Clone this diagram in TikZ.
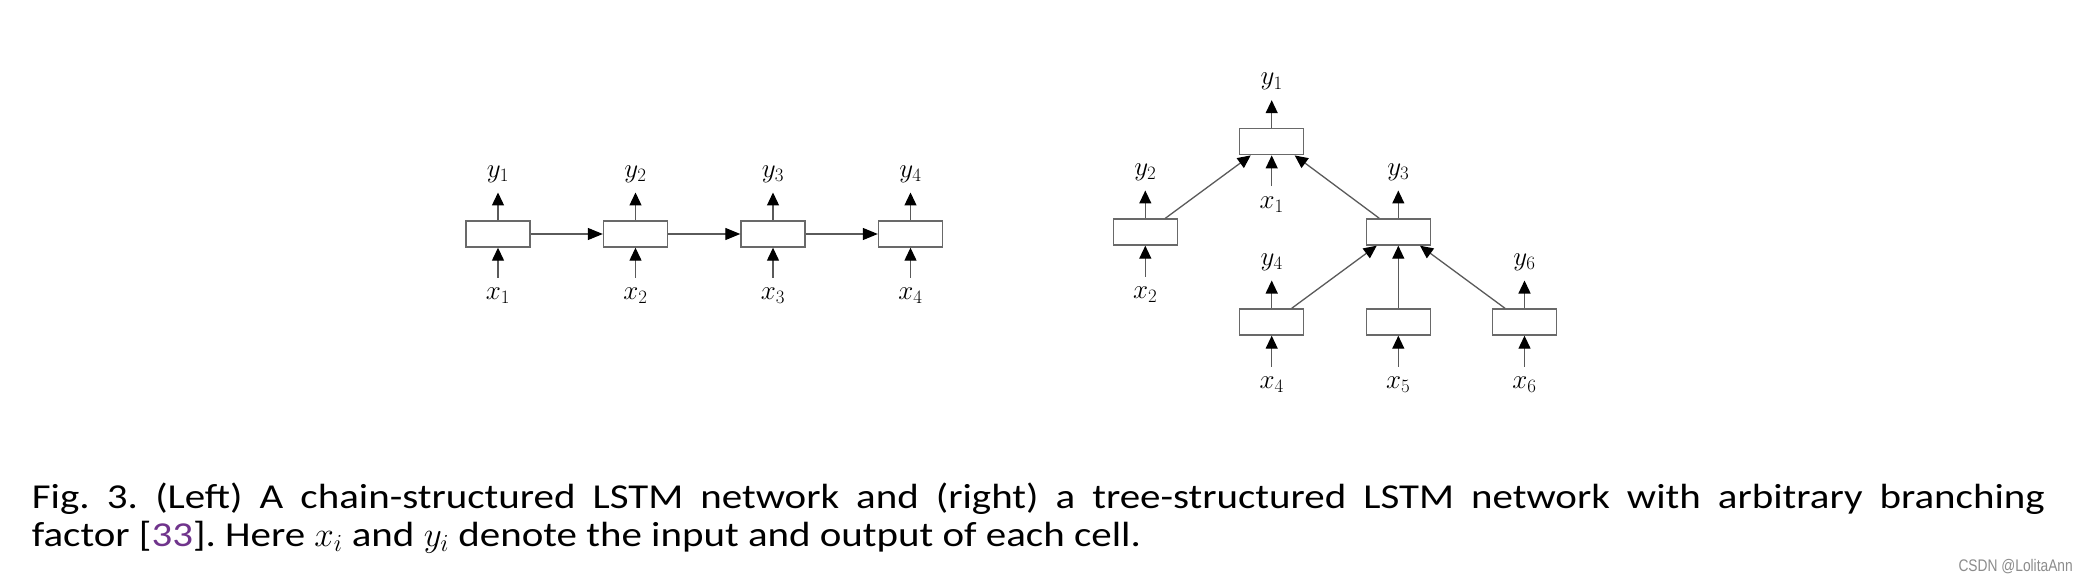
\documentclass[tikz,border=0pt]{standalone}
\usepackage{fix-cm}
\usepackage{fontspec}
\usetikzlibrary{arrows.meta,calc}
\newfontfamily\capfont[FakeStretch=1.17]{Carlito}
\newfontfamily\wmfont[FakeStretch=0.82]{Liberation Sans}
\definecolor{acmpurple}{RGB}{112,52,140}
\definecolor{boxgray}{RGB}{105,105,105}
\definecolor{linegray}{RGB}{90,90,90}
\definecolor{wmgray}{RGB}{140,140,140}
\begin{document}
\begin{tikzpicture}[x=1pt,y=-1pt,
  cell/.style={draw=boxgray,line width=1.4pt,minimum width=64pt,minimum height=26pt,inner sep=0pt,fill=white},
  lab/.style={anchor=base,inner sep=0pt,text height=12pt,text depth=5pt,font=\fontsize{27}{30}\selectfont},
  arr/.style={draw=linegray,line width=1.3pt,-{Triangle[length=13pt,width=12pt,color=black]}},
  harr/.style={draw=linegray,line width=1.3pt,-{Triangle[length=15pt,width=12pt,color=black]}},
  outarr/.style={arr,shorten >=10pt},
  inarr/.style={arr,shorten <=10pt},
]
\fill[white] (0,0) rectangle (2088,580);
\useasboundingbox (0,0) rectangle (2088,580);

% ---- chain ----
\foreach \i/\x in {1/498,2/635.5,3/773,4/910.5}{
  \node[cell] (c\i) at (\x,234) {};
  \node[lab] (cy\i) at ([yshift=43pt]c\i.north) {$y_{\i}$};
  \node[lab] (cx\i) at ([yshift=-52pt]c\i.south) {$x_{\i}$};
  \draw[outarr] (c\i.north) -- (cy\i.south);
  \draw[inarr] (cx\i.north) -- (c\i.south);
}
\draw[harr] (c1.east) -- (c2.west);
\draw[harr] (c2.east) -- (c3.west);
\draw[harr] (c3.east) -- (c4.west);

% ---- tree ----
\node[cell] (t1) at (1271.7,141.7) {};
\node[cell] (t2) at (1145.3,232) {};
\node[cell] (t3) at (1398.3,232) {};
\node[cell] (t4) at (1271.7,322) {};
\node[cell] (t5) at (1398.3,322) {};
\node[cell] (t6) at (1524.5,322) {};

\node[lab] (ty1) at ([yshift=43pt]t1.north) {$y_1$};
\node[lab] (tx1) at ([yshift=-53pt]t1.south) {$x_1$};
\node[lab] (ty2) at ([yshift=43pt]t2.north) {$y_2$};
\node[lab] (tx2) at ([yshift=-53pt]t2.south) {$x_2$};
\node[lab] (ty3) at ([yshift=43pt]t3.north) {$y_3$};
\node[lab] (ty4) at ([yshift=43pt]t4.north) {$y_4$};
\node[lab] (tx4) at ([yshift=-53pt]t4.south) {$x_4$};
\node[lab] (tx5) at ([yshift=-53pt]t5.south) {$x_5$};
\node[lab] (ty6) at ([yshift=43pt]t6.north) {$y_6$};
\node[lab] (tx6) at ([yshift=-53pt]t6.south) {$x_6$};

\draw[outarr] (t1.north) -- (ty1.south);
\draw[inarr] (tx1.north) -- (t1.south);
\draw[outarr] (t2.north) -- (ty2.south);
\draw[inarr] (tx2.north) -- (t2.south);
\draw[outarr] (t3.north) -- (ty3.south);
\draw[outarr] (t4.north) -- (ty4.south);
\draw[inarr] (tx4.north) -- (t4.south);
\draw[inarr] (tx5.north) -- (t5.south);
\draw[outarr] (t6.north) -- (ty6.south);
\draw[inarr] (tx6.north) -- (t6.south);

\draw[arr] ([xshift=20pt]t2.north) -- ([xshift=-21pt]t1.south);
\draw[arr] ([xshift=-19pt]t3.north) -- ([xshift=23pt]t1.south);
\draw[arr] ([xshift=20pt]t4.north) -- ([xshift=-21.6pt]t3.south);
\draw[arr] (t5.north) -- (t3.south);
\draw[arr] ([xshift=-19.5pt]t6.north) -- ([xshift=21.7pt]t3.south);

% ---- caption ----
\node[anchor=base west,inner sep=0pt] (cap1) at (31.7,508.3)
  {\capfont\fontsize{35}{38}\selectfont\frenchspacing\hbox to 2013pt{Fig.\ 3.\enskip (Left) A chain-structured LSTM network and (right) a tree-structured LSTM network with arbitrary branching}};
\node[anchor=base west,inner sep=0pt] (cap2) at (31.7,546.7)
  {\capfont\fontsize{35}{38}\selectfont\frenchspacing factor [{\color{acmpurple}33}]. Here $x_i$ and $y_i$ denote the input and output of each cell.};
\node[anchor=base east,inner sep=0pt,text=wmgray] (wm) at (2073,571)
  {\wmfont\fontsize{16.8}{18}\selectfont CSDN @LolitaAnn};
\end{tikzpicture}
\end{document}
